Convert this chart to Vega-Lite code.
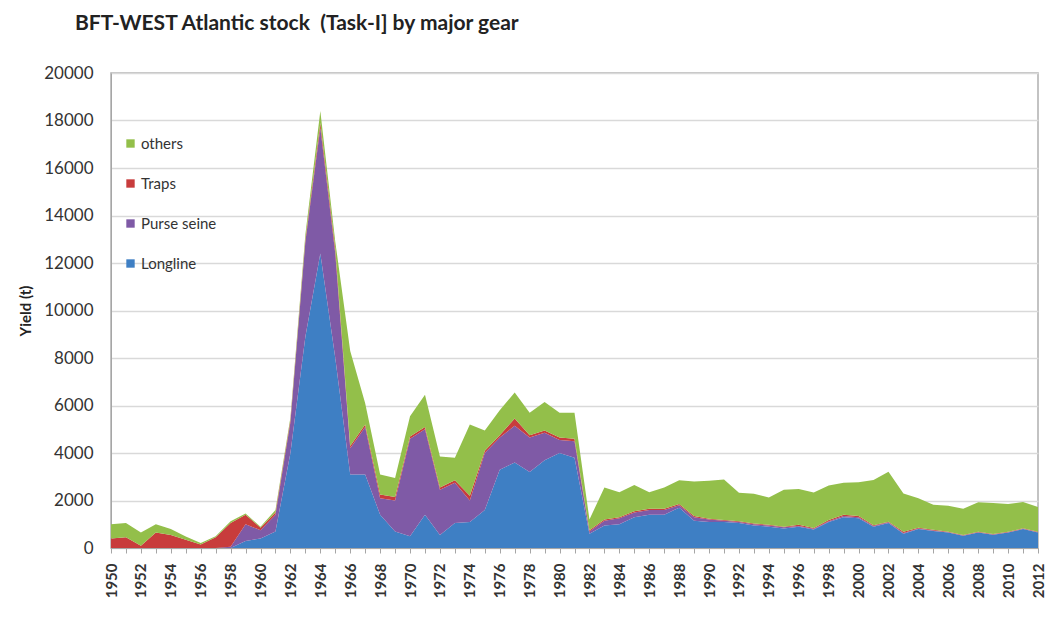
{
  "$schema": "https://vega.github.io/schema/vega-lite/v6.json",
  "autosize": "none",
  "width": 927,
  "height": 475,
  "padding": {"left": 111, "top": 73, "right": 8, "bottom": 89},
  "background": "white",
  "title": {
    "text": "BFT-WEST Atlantic stock\u00a0\u00a0(Task-I] by major gear",
    "anchor": "start",
    "frame": "group",
    "dx": -36,
    "offset": 30,
    "font": "Lato",
    "fontSize": 21,
    "fontWeight": "bold",
    "color": "#222222"
  },
  "data": {
    "values": [
      {"year": 1950, "Longline": 0, "Purse seine": 0, "Traps": 400, "others": 600},
      {"year": 1951, "Longline": 0, "Purse seine": 0, "Traps": 450, "others": 600},
      {"year": 1952, "Longline": 0, "Purse seine": 0, "Traps": 100, "others": 550},
      {"year": 1953, "Longline": 0, "Purse seine": 0, "Traps": 650, "others": 350},
      {"year": 1954, "Longline": 0, "Purse seine": 0, "Traps": 550, "others": 250},
      {"year": 1955, "Longline": 0, "Purse seine": 0, "Traps": 350, "others": 130},
      {"year": 1956, "Longline": 0, "Purse seine": 0, "Traps": 150, "others": 60},
      {"year": 1957, "Longline": 0, "Purse seine": 0, "Traps": 450, "others": 50},
      {"year": 1958, "Longline": 0, "Purse seine": 50, "Traps": 1000, "others": 80},
      {"year": 1959, "Longline": 300, "Purse seine": 700, "Traps": 400, "others": 50},
      {"year": 1960, "Longline": 400, "Purse seine": 350, "Traps": 100, "others": 50},
      {"year": 1961, "Longline": 700, "Purse seine": 700, "Traps": 100, "others": 100},
      {"year": 1962, "Longline": 4000, "Purse seine": 1300, "Traps": 100, "others": 100},
      {"year": 1963, "Longline": 8900, "Purse seine": 4000, "Traps": 100, "others": 200},
      {"year": 1964, "Longline": 12400, "Purse seine": 5300, "Traps": 200, "others": 500},
      {"year": 1965, "Longline": 8000, "Purse seine": 4400, "Traps": 200, "others": 300},
      {"year": 1966, "Longline": 3100, "Purse seine": 1100, "Traps": 100, "others": 4000},
      {"year": 1967, "Longline": 3100, "Purse seine": 2000, "Traps": 100, "others": 900},
      {"year": 1968, "Longline": 1400, "Purse seine": 700, "Traps": 150, "others": 850},
      {"year": 1969, "Longline": 700, "Purse seine": 1300, "Traps": 150, "others": 800},
      {"year": 1970, "Longline": 500, "Purse seine": 4100, "Traps": 100, "others": 850},
      {"year": 1971, "Longline": 1400, "Purse seine": 3600, "Traps": 100, "others": 1350},
      {"year": 1972, "Longline": 550, "Purse seine": 1900, "Traps": 100, "others": 1300},
      {"year": 1973, "Longline": 1050, "Purse seine": 1700, "Traps": 100, "others": 950},
      {"year": 1974, "Longline": 1100, "Purse seine": 900, "Traps": 200, "others": 3000},
      {"year": 1975, "Longline": 1600, "Purse seine": 2400, "Traps": 100, "others": 850},
      {"year": 1976, "Longline": 3300, "Purse seine": 1350, "Traps": 100, "others": 1050},
      {"year": 1977, "Longline": 3600, "Purse seine": 1550, "Traps": 300, "others": 1100},
      {"year": 1978, "Longline": 3200, "Purse seine": 1450, "Traps": 100, "others": 950},
      {"year": 1979, "Longline": 3700, "Purse seine": 1150, "Traps": 100, "others": 1200},
      {"year": 1980, "Longline": 4000, "Purse seine": 550, "Traps": 100, "others": 1050},
      {"year": 1981, "Longline": 3800, "Purse seine": 700, "Traps": 100, "others": 1100},
      {"year": 1982, "Longline": 600, "Purse seine": 100, "Traps": 50, "others": 450},
      {"year": 1983, "Longline": 950, "Purse seine": 200, "Traps": 50, "others": 1350},
      {"year": 1984, "Longline": 1000, "Purse seine": 250, "Traps": 50, "others": 1050},
      {"year": 1985, "Longline": 1300, "Purse seine": 200, "Traps": 50, "others": 1100},
      {"year": 1986, "Longline": 1400, "Purse seine": 200, "Traps": 50, "others": 700},
      {"year": 1987, "Longline": 1400, "Purse seine": 200, "Traps": 50, "others": 900},
      {"year": 1988, "Longline": 1700, "Purse seine": 100, "Traps": 50, "others": 1000},
      {"year": 1989, "Longline": 1150, "Purse seine": 150, "Traps": 50, "others": 1450},
      {"year": 1990, "Longline": 1100, "Purse seine": 100, "Traps": 30, "others": 1600},
      {"year": 1991, "Longline": 1100, "Purse seine": 50, "Traps": 30, "others": 1700},
      {"year": 1992, "Longline": 1050, "Purse seine": 50, "Traps": 30, "others": 1200},
      {"year": 1993, "Longline": 950, "Purse seine": 50, "Traps": 30, "others": 1250},
      {"year": 1994, "Longline": 900, "Purse seine": 50, "Traps": 30, "others": 1150},
      {"year": 1995, "Longline": 820, "Purse seine": 50, "Traps": 30, "others": 1550},
      {"year": 1996, "Longline": 900, "Purse seine": 30, "Traps": 50, "others": 1500},
      {"year": 1997, "Longline": 780, "Purse seine": 30, "Traps": 30, "others": 1500},
      {"year": 1998, "Longline": 1100, "Purse seine": 30, "Traps": 50, "others": 1450},
      {"year": 1999, "Longline": 1300, "Purse seine": 50, "Traps": 50, "others": 1350},
      {"year": 2000, "Longline": 1250, "Purse seine": 50, "Traps": 50, "others": 1420},
      {"year": 2001, "Longline": 900, "Purse seine": 30, "Traps": 30, "others": 1900},
      {"year": 2002, "Longline": 1050, "Purse seine": 30, "Traps": 30, "others": 2100},
      {"year": 2003, "Longline": 600, "Purse seine": 30, "Traps": 50, "others": 1620},
      {"year": 2004, "Longline": 800, "Purse seine": 20, "Traps": 30, "others": 1250},
      {"year": 2005, "Longline": 720, "Purse seine": 20, "Traps": 30, "others": 1050},
      {"year": 2006, "Longline": 650, "Purse seine": 10, "Traps": 20, "others": 1100},
      {"year": 2007, "Longline": 520, "Purse seine": 10, "Traps": 20, "others": 1100},
      {"year": 2008, "Longline": 650, "Purse seine": 10, "Traps": 20, "others": 1250},
      {"year": 2009, "Longline": 560, "Purse seine": 10, "Traps": 20, "others": 1300},
      {"year": 2010, "Longline": 650, "Purse seine": 10, "Traps": 20, "others": 1170},
      {"year": 2011, "Longline": 800, "Purse seine": 10, "Traps": 20, "others": 1110},
      {"year": 2012, "Longline": 650, "Purse seine": 10, "Traps": 20, "others": 1050}
    ]
  },
  "transform": [
    {"fold": ["Longline", "Purse seine", "Traps", "others"], "as": ["gear", "yield"]}
  ],
  "mark": {"type": "area", "interpolate": "linear", "opacity": 1},
  "encoding": {
    "x": {
      "field": "year",
      "type": "quantitative",
      "scale": {"domain": [1950, 2012], "nice": false, "zero": false},
      "axis": {
        "title": null,
        "values": [1950,1951,1952,1953,1954,1955,1956,1957,1958,1959,1960,1961,1962,1963,1964,1965,1966,1967,1968,1969,1970,1971,1972,1973,1974,1975,1976,1977,1978,1979,1980,1981,1982,1983,1984,1985,1986,1987,1988,1989,1990,1991,1992,1993,1994,1995,1996,1997,1998,1999,2000,2001,2002,2003,2004,2005,2006,2007,2008,2009,2010,2011,2012],
        "format": "d",
        "labelExpr": "datum.value % 2 == 0 ? datum.label : ''",
        "labelAngle": 270,
        "labelAlign": "right",
        "labelBaseline": "middle",
        "labelFont": "Lato",
        "labelFontSize": 15,
        "labelFontWeight": "bold",
        "labelColor": "#333333",
        "labelPadding": 10,
        "labelOverlap": false,
        "labelBound": false,
        "tickSize": 5,
        "tickColor": "#a6a6a6",
        "domainColor": "#a6a6a6",
        "grid": false
      }
    },
    "y": {
      "field": "yield",
      "type": "quantitative",
      "stack": "zero",
      "scale": {"domain": [0, 20000], "nice": false},
      "axis": {
        "title": "Yield (t)",
        "titleFont": "Lato",
        "titleFontSize": 15,
        "titleFontWeight": "bold",
        "titleColor": "#222222",
        "titlePadding": 10,
        "values": [0, 2000, 4000, 6000, 8000, 10000, 12000, 14000, 16000, 18000, 20000],
        "format": "d",
        "labelFont": "Lato",
        "labelFontSize": 17,
        "labelColor": "#333333",
        "labelPadding": 18,
        "ticks": false,
        "domainColor": "#a6a6a6",
        "gridColor": "#d9d9d9",
        "gridWidth": 1.5
      }
    },
    "color": {
      "field": "gear",
      "type": "nominal",
      "scale": {
        "domain": ["others", "Traps", "Purse seine", "Longline"],
        "range": ["#93bf4a", "#c83c3c", "#7f5aa6", "#3e7fc4"]
      },
      "legend": {
        "title": null,
        "orient": "none",
        "legendX": 12,
        "legendY": 63,
        "symbolType": "square",
        "symbolSize": 70,
        "symbolStrokeWidth": 0,
        "labelFont": "Lato",
        "labelFontSize": 15,
        "labelColor": "#333333",
        "rowPadding": 24,
        "labelOffset": 3
      }
    },
    "order": {"field": "gear", "sort": "ascending"}
  },
  "config": {
    "view": {"stroke": "#b0b0b0", "strokeWidth": 1.5}
  }
}
